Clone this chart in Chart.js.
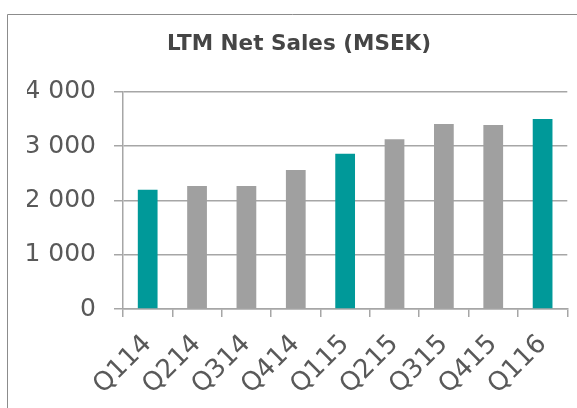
<!DOCTYPE html>
<html>
<head>
<meta charset="utf-8">
<style>
  html, body { margin: 0; padding: 0; background: #ffffff; }
  #wrap { position: relative; width: 577px; height: 408px; }
</style>
<script src="https://cdn.jsdelivr.net/npm/chart.js@4.4.1/dist/chart.umd.min.js"></script>
</head>
<body>
<div id="wrap"><canvas id="chart-ltm-sales" width="577" height="408"></canvas></div>
<script>
// —— Données
const quarters = ['Q114', 'Q214', 'Q314', 'Q414', 'Q115', 'Q215', 'Q315', 'Q415', 'Q116'];
const netSales = [2195, 2265, 2265, 2560, 2860, 3125, 3405, 3390, 3500];
const yTicks = [0, 1000, 2000, 3000, 4000];

const teal = '#009999';
const grey = '#a0a0a0';
const lineGrey = '#a6a6a6';
const textGrey = '#595959';

// Q1 en turquoise, le reste en gris
const barColors = quarters.map((q) => (q.startsWith('Q1') ? teal : grey));

const fmtThousands = (v) => String(v).replace(/\B(?=(\d{3})+(?!\d))/g, ' ');

// cadre gris (haut + gauche, coupé à droite et en bas)
const framePlugin = {
    id: 'frame',
    beforeDraw(chart) {
        const { ctx } = chart;
        ctx.save();
        ctx.fillStyle = '#ffffff';
        ctx.fillRect(0, 0, chart.width, chart.height);
        ctx.strokeStyle = '#8c8c8c';
        ctx.lineWidth = 1;
        ctx.beginPath();
        ctx.moveTo(7.5, chart.height);
        ctx.lineTo(7.5, 14.5);
        ctx.lineTo(chart.width, 14.5);
        ctx.stroke();
        ctx.restore();
    },
};

const ctx = document.getElementById('chart-ltm-sales').getContext('2d');
new Chart(ctx, {
    type: 'bar',
    data: {
        labels: quarters,
        datasets: [
            {
                label: 'LTM Net Sales (MSEK)',
                data: netSales,
                backgroundColor: barColors,
                borderWidth: 0,
                categoryPercentage: 1,
                barPercentage: 0.4,
            },
        ],
    },
    options: {
        responsive: false,
        animation: false,
        layout: { padding: { left: 27, right: 6, top: 14, bottom: 0 } },
        plugins: {
            legend: { display: false },
            tooltip: { enabled: false },
            title: {
                display: true,
                text: 'LTM Net Sales (MSEK)',
                color: '#454545',
                font: { family: 'DejaVu Sans', size: 21.5, weight: 'bold', lineHeight: 1.2 },
                padding: { top: 18, bottom: 34 },
            },
        },
        scales: {
            x: {
                offset: true,
                grid: {
                    offset: true,
                    drawOnChartArea: false,
                    drawTicks: true,
                    tickLength: 8,
                    color: lineGrey,
                    lineWidth: 1.5,
                },
                border: { color: lineGrey, width: 1.5 },
                ticks: {
                    autoSkip: false,
                    minRotation: 45,
                    maxRotation: 45,
                    padding: 12,
                    color: textGrey,
                    font: { family: 'DejaVu Sans', size: 26 },
                },
                afterFit: (scale) => {
                    scale.height = 99;
                },
            },
            y: {
                min: 0,
                max: 4000,
                afterBuildTicks: (scale) => {
                    scale.ticks = yTicks.map((v) => ({ value: v }));
                },
                grid: {
                    color: lineGrey,
                    lineWidth: 1.5,
                    tickLength: 9,
                },
                border: { color: lineGrey, width: 1.5 },
                ticks: {
                    padding: 18,
                    color: textGrey,
                    font: { family: 'DejaVu Sans', size: 25 },
                    callback: (v) => fmtThousands(v),
                },
                afterFit: (scale) => {
                    scale.width = 96;
                },
            },
        },
    },
    plugins: [framePlugin],
});
</script>
</body>
</html>
